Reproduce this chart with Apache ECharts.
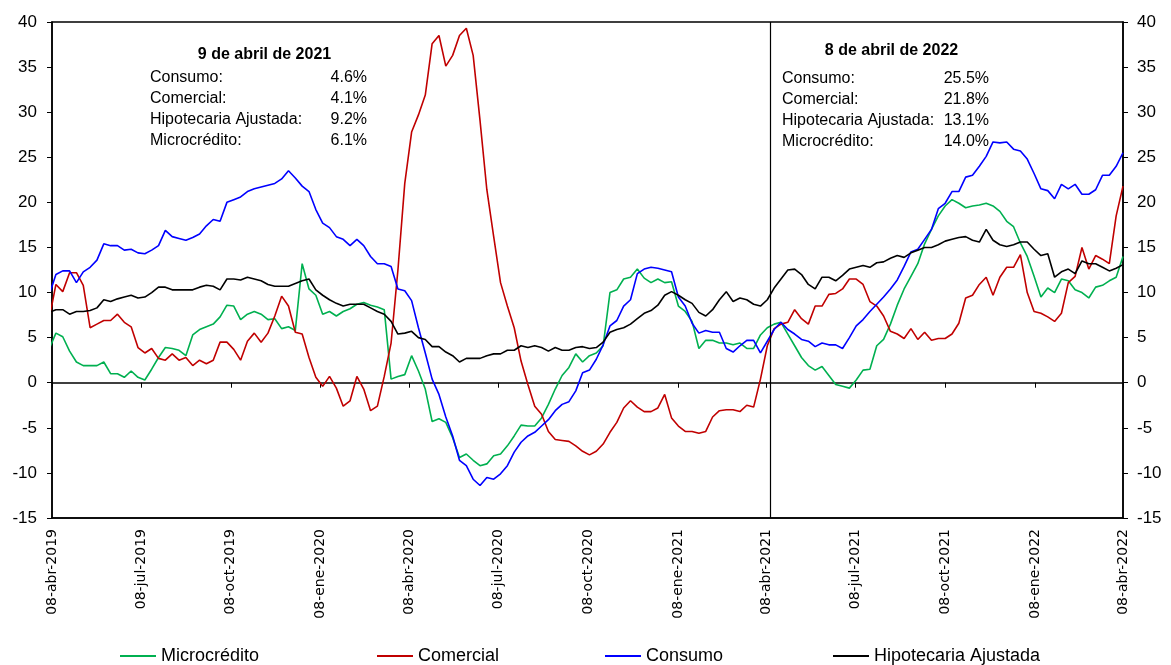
<!DOCTYPE html>
<html lang="es">
<head>
<meta charset="UTF-8">
<title>Crecimiento de la cartera</title>
<style>
  html, body { margin: 0; padding: 0; background: #fff; }
  #chart { width: 1171px; height: 665px; }
</style>
</head>
<body>
<div id="chart"></div>
<script src="https://cdn.jsdelivr.net/npm/echarts@6/dist/echarts.min.js"></script>
<script>
// datos semanales (viernes), el primero cae antes del inicio del eje
var firstDate = '2019-04-05';
var axisStart = '2019-04-08';
var axisEnd = '2022-04-08';
var lineDate = '2021-04-12';

var tickDates = ['2019-04-08', '2019-07-08', '2019-10-08', '2020-01-08', '2020-04-08', '2020-07-08',
  '2020-10-08', '2021-01-08', '2021-04-08', '2021-07-08', '2021-10-08', '2022-01-08', '2022-04-08'];
var tickLabels = ['08-abr-2019', '08-jul-2019', '08-oct-2019', '08-ene-2020', '08-abr-2020', '08-jul-2020',
  '08-oct-2020', '08-ene-2021', '08-abr-2021', '08-jul-2021', '08-oct-2021', '08-ene-2022', '08-abr-2022'];

var microcredito = [
  3.7, 5.5, 5.1, 3.5, 2.3, 1.9, 1.9, 1.9, 2.3, 1.0,
  1.0, 0.6, 1.3, 0.6, 0.3, 1.5, 2.8, 3.9, 3.8, 3.6,
  3.0, 5.3, 5.9, 6.2, 6.5, 7.3, 8.6, 8.5, 7.0, 7.6,
  7.9, 7.6, 7.0, 7.1, 6.0, 6.2, 5.8, 13.2, 10.4, 9.7,
  7.6, 7.9, 7.4, 7.9, 8.2, 8.7, 8.9, 8.6, 8.4, 8.1,
  0.4, 0.7, 0.9, 3.0, 1.3, -0.7, -4.3, -4.0, -4.4, -6.1,
  -8.3, -7.9, -8.6, -9.2, -9.0, -8.1, -7.9, -7.0, -5.9, -4.7,
  -4.8, -4.8, -3.9, -2.4, -0.7, 0.8, 1.7, 3.2, 2.3, 3.0,
  3.3, 4.1, 10.0, 10.3, 11.5, 11.7, 12.6, 11.6, 11.1, 11.5,
  11.1, 11.2, 8.5, 7.9, 6.8, 3.8, 4.7, 4.7, 4.4, 4.4,
  4.2, 4.4, 3.8, 3.8, 5.3, 6.1, 6.5, 6.7, 5.4, 4.1,
  2.8, 1.9, 1.4, 1.8, 0.8, -0.2, -0.4, -0.6, 0.3, 1.4,
  1.5, 4.1, 4.8, 6.5, 8.6, 10.4, 11.8, 13.2, 15.4, 17.0,
  18.5, 19.6, 20.3, 19.9, 19.4, 19.6, 19.7, 19.9, 19.6, 19.0,
  17.9, 17.3, 15.5, 14.0, 11.8, 9.5, 10.5, 10.0, 11.5, 11.3,
  10.3, 10.0, 9.4, 10.6, 10.8, 11.3, 11.7, 14.0
];

var comercial = [
  7.0, 10.9, 10.1, 12.2, 12.2, 10.8, 6.1, 6.5, 6.9, 6.9,
  7.6, 6.7, 6.2, 3.9, 3.3, 3.8, 2.7, 2.5, 3.2, 2.5,
  2.8, 1.9, 2.5, 2.1, 2.5, 4.5, 4.5, 3.7, 2.5, 4.6,
  5.5, 4.5, 5.5, 7.4, 9.6, 8.5, 5.6, 5.4, 2.8, 0.6,
  -0.4, 0.7, -0.6, -2.6, -2.0, 0.7, -0.7, -3.1, -2.6, 0.7,
  4.4, 12.5, 22.1, 27.8, 29.7, 31.9, 37.6, 38.5, 35.1, 36.3,
  38.5, 39.3, 36.3, 29.1, 21.4, 16.2, 11.1, 8.5, 6.1, 2.4,
  -0.2, -2.6, -3.5, -5.4, -6.3, -6.4, -6.5, -7.0, -7.6, -8.0,
  -7.6, -6.8, -5.5, -4.4, -2.8, -2.0, -2.7, -3.2, -3.2, -2.8,
  -1.3, -3.9, -4.8, -5.4, -5.4, -5.6, -5.4, -3.8, -3.1, -3.0,
  -3.0, -3.2, -2.5, -2.7, 0.4, 4.1, 6.0, 6.5, 6.7, 8.1,
  7.1, 6.5, 8.5, 8.5, 9.8, 9.9, 10.4, 11.5, 11.5, 10.9,
  9.0, 8.5, 7.4, 5.7, 5.4, 4.9, 6.0, 4.8, 5.6, 4.7,
  4.9, 4.9, 5.4, 6.6, 9.4, 9.7, 10.9, 11.7, 9.7, 11.7,
  12.8, 12.8, 14.2, 10.0, 7.9, 7.7, 7.3, 6.8, 7.7, 11.1,
  11.8, 15.0, 12.6, 14.1, 13.7, 13.2, 18.5, 21.8
];

var consumo = [
  9.7, 12.0, 12.4, 12.4, 11.1, 12.3, 12.8, 13.6, 15.4, 15.2,
  15.2, 14.7, 14.8, 14.4, 14.3, 14.7, 15.2, 16.9, 16.2, 16.0,
  15.8, 16.1, 16.5, 17.4, 18.1, 17.9, 20.0, 20.3, 20.6, 21.2,
  21.5, 21.7, 21.9, 22.1, 22.6, 23.5, 22.7, 21.8, 21.2, 19.2,
  17.7, 17.2, 16.2, 15.9, 15.2, 15.9, 15.2, 14.0, 13.2, 13.2,
  12.9, 10.4, 10.2, 9.1, 6.1, 3.3, 0.4, -1.3, -3.8, -5.9,
  -8.6, -9.2, -10.7, -11.4, -10.5, -10.7, -10.1, -9.2, -7.7, -6.6,
  -5.9, -5.5, -4.8, -4.1, -3.1, -2.4, -2.1, -0.9, 1.1, 1.4,
  2.6, 4.2, 6.3, 6.9, 8.5, 9.2, 12.1, 12.6, 12.8, 12.7,
  12.5, 12.3, 9.5, 8.5, 6.6, 5.5, 5.8, 5.6, 5.6, 3.8,
  3.4, 4.1, 4.7, 4.7, 3.3, 4.6, 5.9, 6.7, 5.9, 5.4,
  4.8, 4.6, 4.0, 4.4, 4.2, 4.2, 3.8, 5.0, 6.3, 7.0,
  7.9, 8.7, 9.5, 10.4, 11.4, 12.9, 14.5, 14.8, 15.9, 17.0,
  19.3, 19.9, 21.2, 21.2, 22.8, 23.0, 24.0, 25.1, 26.7, 26.6,
  26.7, 25.9, 25.7, 24.8, 23.2, 21.5, 21.3, 20.4, 22.0, 21.5,
  22.0, 20.9, 20.9, 21.4, 23.0, 23.0, 24.0, 25.5
];

var hipotecaria = [
  7.8, 8.1, 8.1, 7.6, 7.9, 7.9, 8.0, 8.3, 9.2, 9.0,
  9.3, 9.5, 9.7, 9.4, 9.5, 10.0, 10.6, 10.6, 10.3, 10.3,
  10.3, 10.3, 10.6, 10.8, 10.7, 10.3, 11.5, 11.5, 11.4, 11.7,
  11.5, 11.3, 10.9, 10.7, 10.7, 10.7, 11.0, 11.3, 11.5, 10.3,
  9.7, 9.2, 8.8, 8.5, 8.7, 8.7, 8.7, 8.3, 7.9, 7.6,
  6.8, 5.4, 5.5, 5.7, 5.0, 4.8, 4.0, 4.0, 3.4, 3.0,
  2.3, 2.7, 2.7, 2.7, 3.0, 3.2, 3.2, 3.6, 3.6, 4.1,
  3.9, 4.1, 3.9, 3.5, 3.9, 3.6, 3.6, 3.9, 4.0, 3.8,
  3.9, 4.5, 5.6, 5.9, 6.1, 6.5, 7.1, 7.7, 8.0, 8.6,
  9.7, 10.1, 9.7, 9.2, 8.8, 7.8, 7.4, 8.1, 9.2, 10.1,
  9.0, 9.4, 9.2, 8.7, 8.5, 9.2, 10.5, 11.5, 12.5, 12.6,
  12.0, 10.9, 10.4, 11.7, 11.7, 11.3, 11.9, 12.6, 12.8, 13.0,
  12.8, 13.3, 13.4, 13.8, 14.1, 13.9, 14.4, 14.7, 15.0, 15.0,
  15.3, 15.7, 15.9, 16.1, 16.2, 15.8, 15.6, 17.0, 15.8, 15.3,
  15.1, 15.3, 15.6, 15.6, 14.8, 14.1, 14.3, 11.7, 12.3, 12.6,
  12.1, 13.5, 13.2, 13.2, 12.8, 12.4, 12.7, 13.1
];

// recuadros de texto
var boxTitles = ['9 de abril de 2021', '8 de abril de 2022'];
var boxNames = ['Consumo:', 'Comercial:', 'Hipotecaria Ajustada:', 'Microcrédito:'];
var box2021 = ['4.6%', '4.1%', '9.2%', '6.1%'];
var box2022 = ['25.5%', '21.8%', '13.1%', '14.0%'];

var seriesNames = ['Microcrédito', 'Comercial', 'Consumo', 'Hipotecaria Ajustada'];
var seriesColors = ['#00B050', '#C00000', '#0000FF', '#000000'];

var FONT = 'Liberation Sans, Arial, sans-serif';

function toDay(s) {
  var p = s.split('-');
  var a = axisStart.split('-');
  return (Date.UTC(+p[0], +p[1] - 1, +p[2]) - Date.UTC(+a[0], +a[1] - 1, +a[2])) / 86400000;
}

var tickDays = tickDates.map(toDay);
var firstDay = toDay(firstDate);

function pairs(vals) {
  return vals.map(function (v, i) { return [firstDay + 7 * i, v]; });
}

var myChart = echarts.init(document.getElementById('chart'));

var graphics = [];
function addBox(x0, xr, yTitle, yFirst, title, vals) {
  graphics.push({
    type: 'text', x: (x0 + xr) / 2 + 6, y: yTitle,
    style: { text: title, font: 'bold 16px ' + FONT, fill: '#000', align: 'center', verticalAlign: 'middle' }
  });
  for (var i = 0; i < boxNames.length; i++) {
    graphics.push({
      type: 'text', x: x0, y: yFirst + i * 20.7,
      style: { text: boxNames[i], font: '16px ' + FONT, fill: '#000', align: 'left', verticalAlign: 'middle' }
    });
    graphics.push({
      type: 'text', x: xr, y: yFirst + i * 20.7,
      style: { text: vals[i], font: '16px ' + FONT, fill: '#000', align: 'right', verticalAlign: 'middle' }
    });
  }
}
addBox(150, 367, 55, 78, boxTitles[0], box2021);
addBox(782, 989, 51, 79, boxTitles[1], box2022);

// una leyenda por serie para fijar su posición
var legendLeft = [115, 372, 600, 828];
var legends = seriesNames.map(function (name, i) {
  return {
    left: legendLeft[i], top: 642,
    icon: 'rect', itemWidth: 36, itemHeight: 2,
    textStyle: { color: '#000', fontFamily: FONT, fontSize: 18 },
    data: [name]
  };
});

var yAxisBase = {
  type: 'value', min: -15, max: 40, interval: 5,
  axisLine: { show: true, onZero: false, lineStyle: { color: '#000', width: 1.5 } },
  axisTick: { show: true, length: 5, lineStyle: { color: '#000' } },
  splitLine: { show: false },
  axisLabel: { color: '#000', fontFamily: FONT, fontSize: 17, margin: 15 }
};

var series = [microcredito, comercial, consumo, hipotecaria].map(function (vals, i) {
  return {
    name: seriesNames[i], type: 'line', data: pairs(vals),
    symbol: 'none', lineStyle: { color: seriesColors[i], width: 1.6 }, itemStyle: { color: seriesColors[i] }
  };
});
series[3].markLine = {
  silent: true, symbol: 'none', label: { show: false },
  lineStyle: { color: '#000', width: 1.2, type: 'solid' },
  data: [{ xAxis: toDay(lineDate) }]
};

var option = {
  animation: false,
  backgroundColor: '#fff',
  grid: {
    left: 52, right: 48, top: 22, bottom: 147,
    show: true, borderColor: '#000', borderWidth: 1.5,
    outerBoundsMode: 'none'
  },
  legend: legends,
  xAxis: [{
    type: 'value', min: 0, max: toDay(axisEnd),
    axisLine: { show: true, onZero: true, lineStyle: { color: '#000', width: 1.5 } },
    axisTick: { show: true, length: 5, customValues: tickDays, lineStyle: { color: '#000' } },
    axisLabel: { show: false },
    splitLine: { show: false }
  }, {
    type: 'value', min: 0, max: toDay(axisEnd), position: 'bottom',
    axisLine: { show: true, onZero: false, lineStyle: { color: '#000', width: 1.5 } },
    axisTick: { show: false },
    axisLabel: {
      show: true, rotate: 90, margin: 11, color: '#000', fontFamily: 'DejaVu Sans, sans-serif', fontSize: 14,
      customValues: tickDays,
      formatter: function (v) {
        var k = tickDays.indexOf(Math.round(v));
        return k >= 0 ? tickLabels[k] : '';
      }
    },
    splitLine: { show: false }
  }],
  yAxis: [
    echarts.util.merge({ position: 'left' }, yAxisBase, true),
    echarts.util.merge({ position: 'right', axisLabel: { margin: 14 } }, yAxisBase)
  ],
  graphic: graphics,
  series: series
};

myChart.setOption(option);
</script>
</body>
</html>
